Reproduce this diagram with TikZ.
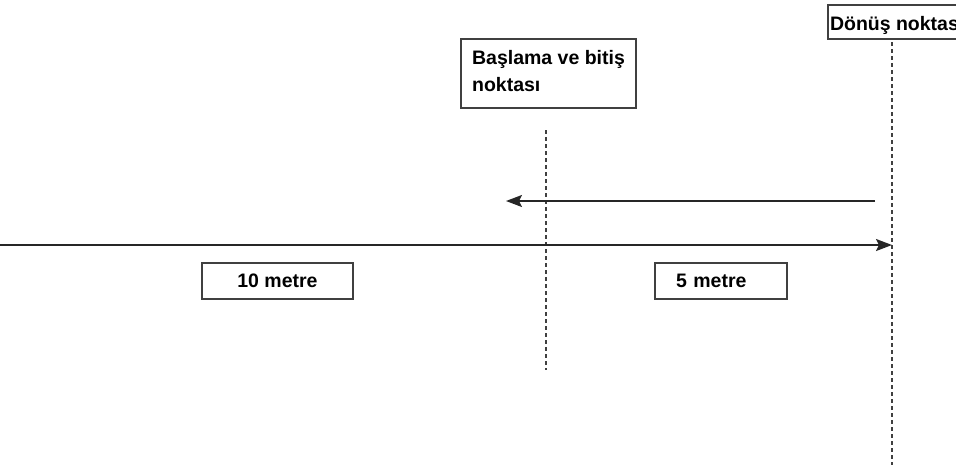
\documentclass[tikz,border=0pt]{standalone}
\usepackage{fontspec}
\setmainfont{Liberation Sans}
\usetikzlibrary{arrows.meta,positioning}
\tikzset{
    track diagram/.style = {>={Stealth[length=16pt, width=12pt, inset=3pt]}},
    run/.style           = {line width=2pt, draw=black!85},
    guide/.style         = {line width=2pt, draw=black!75,
                            dash pattern=on 4pt off 3pt},
    labelbox/.style      = {draw=black!75, line width=2pt, fill=white,
                            font=\fontsize{19.5}{27}\selectfont\bfseries},
    distbox/.style       = {labelbox, minimum height=36pt, inner ysep=0pt}
}
\begin{document}
\begin{tikzpicture}[track diagram, x=1pt, y=-1pt]
\useasboundingbox (0,0) rectangle (956,475);
\clip (0,0) rectangle (956,475);

% Marker boxes at the top
\node[labelbox, anchor=north west, align=left, minimum width=175pt,
      inner ysep=11pt, text depth=6pt]
    (start) at (460,38) {Başlama ve bitiş\\noktası};
\node[labelbox, anchor=north west, inner xsep=2pt, inner ysep=0pt,
      text height=25pt, text depth=9pt]
    (turn) at (827,4) {Dönüş noktası};

% Dotted lines for start and turning point
\coordinate (starttop) at (546,130);
\coordinate (startbottom) at (546,370);
\coordinate (turnbottom) at (892,465);
\draw[guide] (starttop) -- (startbottom);
\draw[guide] ([yshift=-2pt]turn.south -| turnbottom) -- (turnbottom);

% Running direction
\coordinate (west) at (0,245);
\coordinate (back) at (875,201);
\draw[run, ->] (west) -- (west -| turnbottom);
\draw[run, ->] (back) -- (back -| 506,0);

% Distance boxes
\node[distbox, minimum width=151pt] (ten) at (277.5,281) {10 metre};
\node[distbox, anchor=west, align=left, text width=90pt, inner xsep=21pt]
    (five) at (654,281) {5 metre};

\end{tikzpicture}
\end{document}
